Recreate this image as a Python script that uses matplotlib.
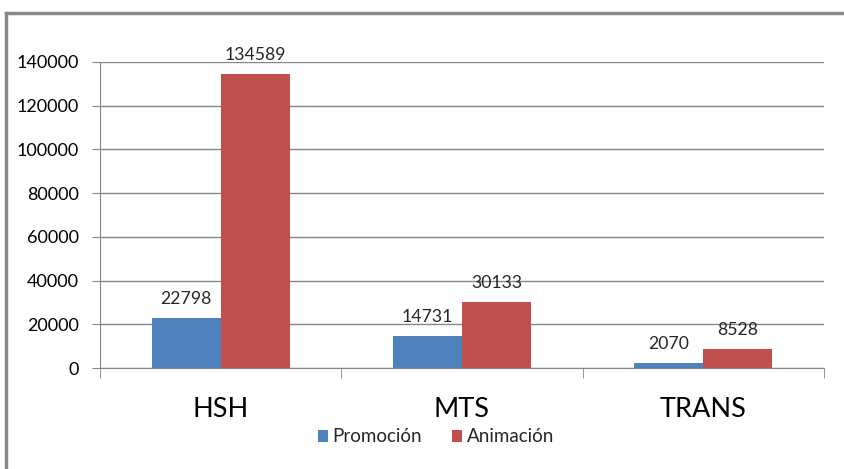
import matplotlib
matplotlib.use('Agg')
import matplotlib.pyplot as plt
from matplotlib.ticker import MultipleLocator, FixedLocator
import numpy as np

categories = ['HSH', 'MTS', 'TRANS']
promocion = [22798, 14731, 2070]
animacion = [134589, 30133, 8528]
series_names = ['Promoción', 'Animación']

BLUE = '#4F81BD'
RED = '#C0504D'
GRID = '#868686'

plt.rcParams['font.family'] = ['Lato', 'DejaVu Sans']
plt.rcParams['text.color'] = '#262626'

fig = plt.figure(figsize=(8.44, 4.69), dpi=100)
ax = fig.add_axes([100 / 844, 1 - 368 / 469, 724 / 844, 306 / 469])

# outer chart border (only top and left visible in the crop)
fig.add_artist(plt.Line2D([6 / 844, 6 / 844], [0, 1 - 13 / 469], color='#8a8a8a', lw=2.5,
                          transform=fig.transFigure))
fig.add_artist(plt.Line2D([6 / 844, 1], [1 - 13 / 469, 1 - 13 / 469], color='#8a8a8a', lw=2.5,
                          transform=fig.transFigure))

x = np.arange(len(categories))
w = 0.286
b1 = ax.bar(x - w / 2, promocion, w, color=BLUE, label=series_names[0], zorder=3)
b2 = ax.bar(x + w / 2, animacion, w, color=RED, label=series_names[1], zorder=3)

for bars, vals in ((b1, promocion), (b2, animacion)):
    for r, v in zip(bars, vals):
        ax.annotate(str(v), (r.get_x() + r.get_width() / 2, v), xytext=(0, 8),
                    textcoords='offset points', ha='center', va='bottom',
                    fontsize=12.7, clip_on=False)

ax.set_xlim(-0.5, 2.5)
ax.set_ylim(0, 140000)
ax.yaxis.set_major_locator(MultipleLocator(20000))
ax.grid(axis='y', color=GRID, lw=1, zorder=0)

for s in ('top', 'right'):
    ax.spines[s].set_visible(False)
ax.spines['left'].set_color(GRID)
ax.spines['bottom'].set_color(GRID)

ax.tick_params(axis='y', length=6, color=GRID, labelsize=13, pad=9)
ax.set_xticks(x)
ax.set_xticklabels(categories)
ax.tick_params(axis='x', which='major', length=0, labelsize=19.5, pad=21)
ax.xaxis.set_minor_locator(FixedLocator([-0.5, 0.5, 1.5, 2.5]))
ax.tick_params(axis='x', which='minor', length=7, color=GRID, direction='out')

ax.legend(loc='center', bbox_to_anchor=(436 / 844, 1 - 437 / 469), bbox_transform=fig.transFigure,
          ncol=2, frameon=False, fontsize=13.5, handlelength=0.55, handleheight=0.55,
          handletextpad=0.25, columnspacing=1.6)

fig.savefig('out.png', dpi=100)
